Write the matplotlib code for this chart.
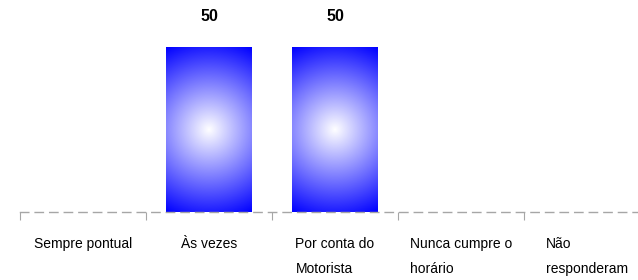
import matplotlib
matplotlib.use('Agg')
import matplotlib.pyplot as plt
import numpy as np

# ---------------------------------------------------

categories = ['Sempre pontual', 'Às vezes', 'Por conta do\nMotorista',
              'Nunca cumpre o\nhorário', 'Não\nresponderam']
values = [0, 50, 50, 0, 0]

# ---------------------------------------------------

plt.rcParams['font.family'] = ['Liberation Sans', 'DejaVu Sans']

fig = plt.figure(figsize=(6.38, 2.8), dpi=100)
ax = fig.add_axes([20 / 638, 68 / 280, 630 / 638, 198 / 280])

bar_w = 0.68
ymax = 60

# radial gradient white -> blue
nx, ny = 120, 220
u = np.linspace(-1, 1, nx)
v = np.linspace(-1, 1, ny)
U, V = np.meshgrid(u, v)
r = np.sqrt((U * 43) ** 2 + (V * 82) ** 2) / np.hypot(43, 82)
t = np.clip(r, 0, 1)
img = np.zeros((ny, nx, 3))
img[..., 0] = 1 - t
img[..., 1] = 1 - t
img[..., 2] = 1.0

for i, val in enumerate(values):
    if val <= 0:
        continue
    ax.imshow(img, extent=(i - bar_w / 2, i + bar_w / 2, 0, val),
              aspect='auto', interpolation='bilinear', zorder=2)
    ax.annotate(str(val), (i, val), xytext=(0, 16.5), textcoords='offset points',
                ha='center', va='bottom', fontsize=11.5, fontweight='bold')

ax.set_xlim(-0.5, len(categories) - 0.5)
ax.set_ylim(0, ymax)

for s in ['top', 'right', 'left']:
    ax.spines[s].set_visible(False)
ax.spines['bottom'].set_color('#a6a6a6')
ax.spines['bottom'].set_linewidth(1)
ax.spines['bottom'].set_linestyle((0, (6, 4.5)))
ax.spines['bottom'].set_zorder(3)

ax.set_yticks([])
ax.set_xticks(range(len(categories)))
ax.set_xticklabels(categories, multialignment='left', linespacing=2.0)
ax.tick_params(axis='x', which='major', length=0, pad=18, labelsize=10)
ax.set_xticks(np.arange(-0.5, len(categories) + 0.5, 1), minor=True)
ax.tick_params(axis='x', which='minor', length=5.5, color='#a6a6a6', width=0.8)

fig.savefig('out.png', dpi=100)
